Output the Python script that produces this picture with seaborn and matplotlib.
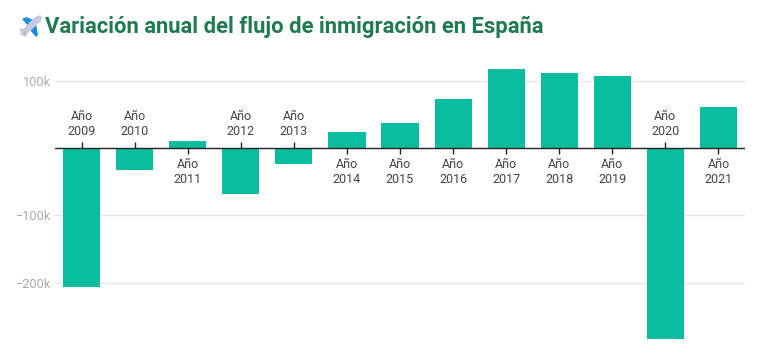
import matplotlib
matplotlib.use("Agg")
import matplotlib.pyplot as plt
from matplotlib.patches import Polygon
import pandas as pd
import seaborn as sns

# valores (miles de personas)
years = [2009, 2010, 2011, 2012, 2013, 2014, 2015, 2016, 2017, 2018, 2019, 2020, 2021]
values = [-206400, -32700, 10400, -68300, -23800, 23800, 37000, 72700, 117300, 111400, 106900, -284300, 60900]
y_ticks = [100000, -100000, -200000]
y_labels = ["100k", "\u2212100k", "\u2212200k"]
title = "Variación anual del flujo de inmigración en España"

W, H = 781, 363
sns.set_theme(style="white")
plt.rcParams["font.family"] = ["Roboto", "DejaVu Sans"]

fig = plt.figure(figsize=(W / 100, H / 100), dpi=100)
# eje en pixeles: x 55-745, y 50-345
ax = fig.add_axes([55 / W, 1 - 345 / H, 690 / W, 295 / H])

df = pd.DataFrame({"year": [str(y) for y in years], "value": values})
sns.barplot(data=df, x="year", y="value", color="#0abd9f", saturation=1, width=0.7, linewidth=0, ax=ax, zorder=2)

px = 67.35 / 100000  # pixeles por unidad
zero = 148.0
ax.set_xlim(-0.5, 12.5)
ax.set_ylim(-(345 - zero) / px, (zero - 50) / px)
ax.set_xlabel("")
ax.set_ylabel("")
ax.set_xticks([])
ax.set_yticks(y_ticks)
ax.set_yticklabels(y_labels, fontsize=9.2, color="#ababab")
ax.tick_params(axis="y", length=0, pad=3)
ax.grid(axis="y", color="#e6e6e6", lw=1, zorder=0)
ax.set_axisbelow(True)
sns.despine(ax=ax, left=True, right=True, top=True, bottom=True)
ax.axhline(0, color="#222222", lw=1, zorder=3)

for i, (y, v) in enumerate(zip(years, values)):
    up = v < 0
    ax.plot([i], [0], marker=2 if up else 3, ms=4, mew=1, color="#222222", zorder=3, clip_on=False)
    ax.annotate(f"Año\n{y}", xy=(i, 0), xytext=(0, 10 if up else -10), textcoords="offset pixels",
                ha="center", va="bottom" if up else "top", fontsize=9, color="#444444", linespacing=1.16)

fig.text(45 / W, 1 - 27 / H, title, fontsize=15.8, fontweight="bold", color="#1f7a4f", va="center", ha="left")


# icono del avion
def icon(points, color):
    fig.add_artist(Polygon([(x / W, 1 - y / H) for x, y in points], closed=True, fc=color, ec="none",
                           transform=fig.transFigure))


icon([(22, 19), (26, 17), (36, 21), (30, 28)], "#1c8fdc")
icon([(36, 24), (30, 30), (36, 37), (38, 35)], "#1c8fdc")
icon([(40, 15), (42, 17), (41, 21), (27, 34), (23, 36), (20, 34), (22, 30), (35, 17)], "#c9c8dc")
icon([(19, 28), (25, 30), (21, 33)], "#c9c8dc")
icon([(25, 31), (27, 37), (23, 35)], "#b3b2cc")

fig.savefig("out.png", dpi=100)
